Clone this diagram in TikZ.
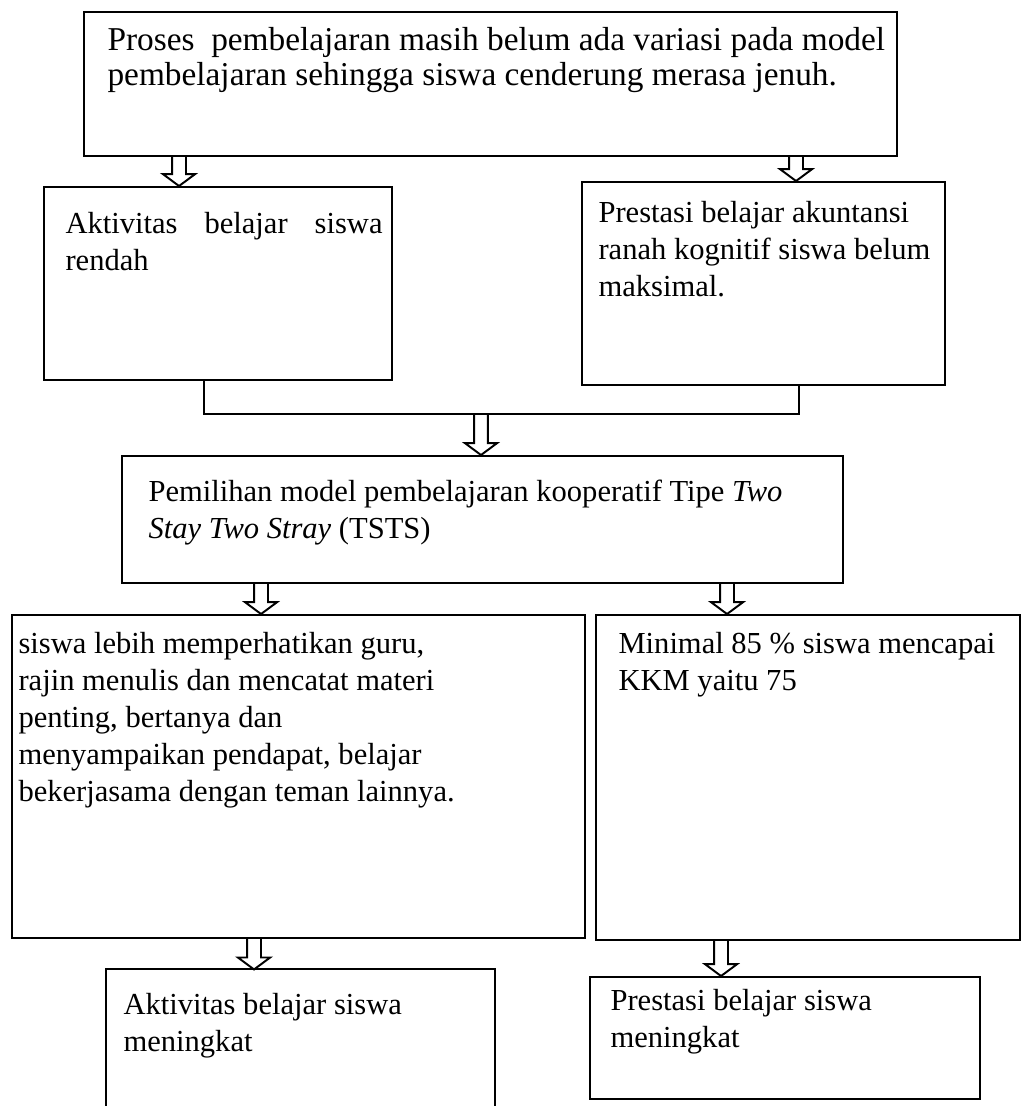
\documentclass[tikz,border=0pt]{standalone}
\usepackage{fontspec}
\setmainfont{Liberation Serif}
\usetikzlibrary{calc,fit,positioning}
\tikzset{
% Boxes of the flow and the text set in them
flow box/.style={draw,line width=0.7pt,inner sep=0pt},
box text/.style={anchor=north west,inner sep=0pt,align=left,font=\fontsize{11}{13.3}\selectfont},
% Hollow arrow going down from one box to the next
down arrow/.style={draw,line width=0.7pt,to path={
    let \p1=(\tikztostart),\p2=(\tikztotarget) in
    (\x1-2.5pt,\y1) -- (\x1-2.5pt,\y2+4.3pt) -- (\x1-5.8pt,\y2+4.3pt) -- (\x1,\y2)
    -- (\x1+5.8pt,\y2+4.3pt) -- (\x1+2.5pt,\y2+4.3pt) -- (\x1+2.5pt,\y1)}}
}

\begin{document}
\begin{tikzpicture}[x=0.36pt,y=-0.36pt]
      \useasboundingbox (0,0) rectangle (1034,1106);
      % The boxes
      \node(b1)[flow box,fit={(84,12) (897,156)}]{};
      \node(b2)[flow box,fit={(44,187) (392,380)}]{};
      \node(b3)[flow box,fit={(582,182) (945,385)}]{};
      \node(b4)[flow box,fit={(122,456) (843,583)}]{};
      \node(b5)[flow box,fit={(12,615) (585,938)}]{};
      \node(b6)[flow box,fit={(596,615) (1020,940)}]{};
      \node(b7)[inner sep=0pt,fit={(107,970) (494,1106)}]{};
      \node(b8)[flow box,fit={(590,977) (980,1099)}]{};
      % last box on the left runs off the page
      \draw[line width=0.7pt] (b7.south west) -- (b7.north west) -- (b7.north east) -- (b7.south east);
      % Texts
      \node(t1)[box text,font=\fontsize{12}{12.4}\selectfont] at (107,27) {Proses\ \ pembelajaran masih belum ada variasi pada model\\
        pembelajaran sehingga siswa cenderung merasa jenuh.};
      \node(t2)[box text,text width=317*0.36pt,align=justify] at (65,212) {Aktivitas\hfill belajar\hfill siswa\\ rendah};
      \node(t3)[box text] at (598,201) {Prestasi belajar akuntansi\\ ranah kognitif siswa belum\\ maksimal.};
      \node(t4)[box text] at (148,479) {Pemilihan model pembelajaran kooperatif Tipe \textit{Two}\\
        \textit{Stay Two Stray} (TSTS)};
      \node(t5)[box text] at (18,632) {siswa lebih memperhatikan guru,\\ rajin menulis dan mencatat materi\\
        penting, bertanya dan\\ menyampaikan pendapat, belajar\\ bekerjasama dengan teman lainnya.};
      \node(t6)[box text] at (618,632) {Minimal 85 \% siswa mencapai\\ KKM yaitu 75};
      \node(t7)[box text] at (123,993) {Aktivitas belajar siswa\\ meningkat};
      \node(t8)[box text] at (610,989) {Prestasi belajar siswa\\ meningkat};
      % Joining the two problems
      \coordinate(join) at (481,414);
      \draw[line width=0.7pt] ($(b2.south west)+(161,0)$) |- (join) -| ($(b3.south west)+(218,0)$);
      % Arrows
      \draw[down arrow] ($(b1.south west)+(96,0)$) to (b2.north);
      \draw[down arrow] ($(b1.south west)+(713,0)$) to (b3.north);
      \draw[down arrow] (join) to (b4.north);
      \draw[down arrow] ($(b4.south west)+(140,0)$) to (b5.north);
      \draw[down arrow] ($(b4.south west)+(606,0)$) to (b6.north);
      \draw[down arrow] ($(b5.south west)+(243,0)$) to (b7.north);
      \draw[down arrow] ($(b6.south west)+(126,0)$) to (b8.north);
\end{tikzpicture}
\end{document}
